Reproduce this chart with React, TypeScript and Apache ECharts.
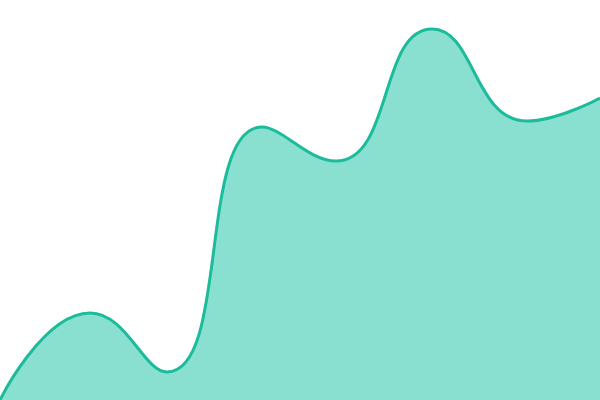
import React, { useEffect, useRef } from 'react';
import * as echarts from 'echarts';

const xValues = [0, 90, 167, 262, 336, 432, 527, 600];
const values = [0, 87, 28, 273, 239, 371, 279, 302];

export default function App() {
  const chartRef = useRef<HTMLDivElement>(null);

  useEffect(() => {
    if (!chartRef.current) return;
    const chart = echarts.init(chartRef.current, null, { renderer: 'svg' });

    chart.setOption({
      animation: false,
      grid: { left: 0, right: 0, top: 0, bottom: 0 },
      xAxis: { type: 'value', min: 0, max: 600, show: false },
      yAxis: { type: 'value', min: 0, max: 400, show: false },
      series: [
        {
          type: 'line',
          data: xValues.map((x, i) => [x, values[i]]),
          smooth: true,
          symbol: 'none',
          lineStyle: { color: '#1abc9c', width: 3 },
          areaStyle: { color: '#8ae0d0', opacity: 1 },
        },
      ],
    });

    return () => {
      chart.dispose();
    };
  }, []);

  return (
    <div
      ref={chartRef}
      style={{ position: 'fixed', left: 0, top: 0, width: 600, height: 400 }}
    />
  );
}
